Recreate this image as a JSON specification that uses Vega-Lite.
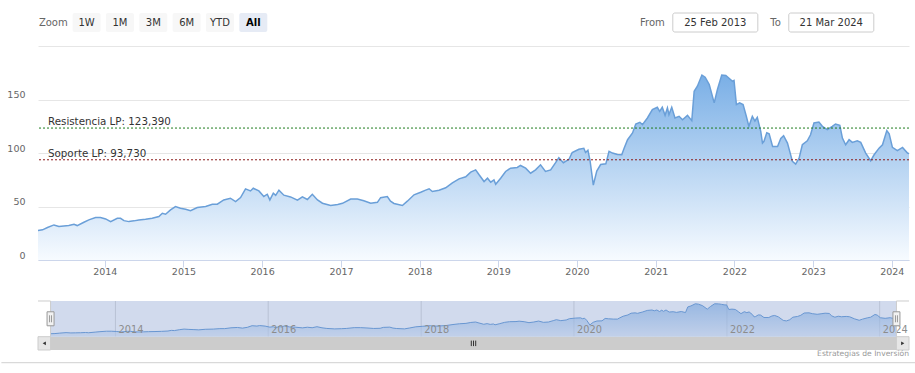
{
"$schema": "https://vega.github.io/schema/vega-lite/v6.json",
"background": "white",
"padding": {"left": 0, "right": 0, "top": 12, "bottom": 10},
"spacing": 11,
"config": {"font": "DejaVu Sans", "view": {"stroke": null}},
"datasets": {
"prices": [
{"d":"2013-02-25","v":27.5},{"d":"2013-03-18","v":28.2},{"d":"2013-04-10","v":30.4},{"d":"2013-05-10","v":32.8},{"d":"2013-06-02","v":31.3},{"d":"2013-06-25","v":31.8},{"d":"2013-07-18","v":32.2},{"d":"2013-08-11","v":33.4},{"d":"2013-08-26","v":32.2},{"d":"2013-09-26","v":35.3},{"d":"2013-10-19","v":37.5},{"d":"2013-11-19","v":39.7},{"d":"2013-12-12","v":39.7},
{"d":"2014-01-05","v":38.4},{"d":"2014-01-28","v":35.9},{"d":"2014-02-28","v":39.0},{"d":"2014-03-15","v":39.0},{"d":"2014-03-31","v":36.8},{"d":"2014-04-23","v":35.9},{"d":"2014-05-16","v":36.6},{"d":"2014-06-08","v":37.5},{"d":"2014-07-09","v":38.1},{"d":"2014-08-09","v":39.0},{"d":"2014-09-09","v":40.6},{"d":"2014-09-25","v":43.7},{"d":"2014-10-10","v":42.8},{"d":"2014-11-02","v":46.9},{"d":"2014-11-25","v":50.0},{"d":"2014-12-18","v":48.4},
{"d":"2015-01-11","v":47.5},{"d":"2015-02-03","v":46.2},{"d":"2015-03-06","v":49.0},{"d":"2015-04-14","v":50.0},{"d":"2015-05-15","v":52.2},{"d":"2015-06-07","v":52.2},{"d":"2015-07-07","v":56.2},{"d":"2015-08-07","v":57.8},{"d":"2015-08-31","v":54.7},{"d":"2015-09-23","v":58.4},{"d":"2015-10-16","v":66.5},{"d":"2015-11-08","v":64.6},{"d":"2015-11-21","v":67.1},{"d":"2015-12-17","v":64.6},
{"d":"2016-01-09","v":59.4},{"d":"2016-01-25","v":61.5},{"d":"2016-02-06","v":56.2},{"d":"2016-02-22","v":62.5},{"d":"2016-03-04","v":60.5},{"d":"2016-03-19","v":65.3},{"d":"2016-04-11","v":60.6},{"d":"2016-05-12","v":59.0},{"d":"2016-06-13","v":55.9},{"d":"2016-07-06","v":59.0},{"d":"2016-07-29","v":56.6},{"d":"2016-08-21","v":61.5},{"d":"2016-09-14","v":56.2},{"d":"2016-10-07","v":53.1},{"d":"2016-11-14","v":50.9},{"d":"2016-12-17","v":52.0},
{"d":"2017-01-08","v":53.0},{"d":"2017-02-15","v":57.0},{"d":"2017-03-18","v":57.0},{"d":"2017-04-17","v":55.4},{"d":"2017-05-19","v":53.0},{"d":"2017-06-19","v":53.9},{"d":"2017-07-04","v":58.3},{"d":"2017-08-04","v":59.4},{"d":"2017-08-19","v":55.0},{"d":"2017-09-04","v":52.9},{"d":"2017-10-13","v":51.0},{"d":"2017-11-05","v":55.0},{"d":"2017-12-06","v":61.0},
{"d":"2018-01-06","v":63.4},{"d":"2018-01-29","v":65.3},{"d":"2018-02-14","v":66.6},{"d":"2018-03-01","v":64.0},{"d":"2018-04-01","v":65.3},{"d":"2018-05-02","v":67.5},{"d":"2018-06-02","v":72.2},{"d":"2018-07-03","v":75.9},{"d":"2018-08-03","v":77.8},{"d":"2018-08-26","v":82.2},{"d":"2018-09-18","v":84.3},{"d":"2018-10-04","v":79.7},{"d":"2018-10-27","v":73.4},{"d":"2018-11-12","v":76.5},{"d":"2018-11-27","v":72.8},{"d":"2018-12-12","v":74.9},{"d":"2018-12-20","v":70.8},
{"d":"2019-01-12","v":76.5},{"d":"2019-02-04","v":82.8},{"d":"2019-02-27","v":85.9},{"d":"2019-03-30","v":86.6},{"d":"2019-04-14","v":88.4},{"d":"2019-05-08","v":85.9},{"d":"2019-05-31","v":81.2},{"d":"2019-06-23","v":84.3},{"d":"2019-07-16","v":89.0},{"d":"2019-08-08","v":82.8},{"d":"2019-09-01","v":84.3},{"d":"2019-09-24","v":91.0},{"d":"2019-10-09","v":95.7},{"d":"2019-10-30","v":91.0},{"d":"2019-11-25","v":94.2},{"d":"2019-12-10","v":100.5},
{"d":"2020-01-10","v":103.6},{"d":"2020-02-02","v":104.5},{"d":"2020-02-10","v":100.5},{"d":"2020-02-21","v":102.7},{"d":"2020-03-02","v":92.6},{"d":"2020-03-17","v":70.0},{"d":"2020-04-02","v":83.1},{"d":"2020-04-20","v":89.3},{"d":"2020-05-14","v":89.9},{"d":"2020-05-29","v":101.7},{"d":"2020-06-14","v":100.0},{"d":"2020-07-07","v":98.6},{"d":"2020-07-27","v":98.5},{"d":"2020-08-07","v":104.6},{"d":"2020-08-23","v":112.5},{"d":"2020-09-15","v":118.8},{"d":"2020-09-30","v":127.2},{"d":"2020-10-19","v":128.8},{"d":"2020-10-31","v":126.6},{"d":"2020-11-23","v":132.8},{"d":"2020-12-16","v":140.6},
{"d":"2021-01-08","v":142.8},{"d":"2021-01-19","v":139.0},{"d":"2021-01-31","v":142.8},{"d":"2021-02-13","v":135.3},{"d":"2021-02-24","v":142.2},{"d":"2021-03-03","v":136.0},{"d":"2021-03-16","v":142.8},{"d":"2021-03-31","v":132.8},{"d":"2021-04-19","v":134.4},{"d":"2021-05-05","v":131.2},{"d":"2021-05-28","v":135.3},{"d":"2021-06-17","v":130.3},{"d":"2021-06-28","v":157.8},{"d":"2021-07-13","v":162.5},{"d":"2021-08-03","v":173.0},{"d":"2021-08-18","v":171.0},{"d":"2021-09-06","v":164.0},{"d":"2021-09-29","v":146.9},{"d":"2021-10-14","v":159.4},{"d":"2021-11-03","v":173.0},{"d":"2021-11-22","v":172.5},{"d":"2021-12-07","v":170.0},{"d":"2021-12-23","v":167.2},{"d":"2021-12-30","v":168.0},
{"d":"2022-01-10","v":145.3},{"d":"2022-01-25","v":147.0},{"d":"2022-02-10","v":145.3},{"d":"2022-02-25","v":134.4},{"d":"2022-03-09","v":125.0},{"d":"2022-03-25","v":134.4},{"d":"2022-04-06","v":130.0},{"d":"2022-04-17","v":133.4},{"d":"2022-05-03","v":120.3},{"d":"2022-05-11","v":109.4},{"d":"2022-05-18","v":111.0},{"d":"2022-05-31","v":119.0},{"d":"2022-06-11","v":118.0},{"d":"2022-06-27","v":106.2},{"d":"2022-07-20","v":106.2},{"d":"2022-08-04","v":113.7},{"d":"2022-08-17","v":116.2},{"d":"2022-09-04","v":109.3},{"d":"2022-09-27","v":92.2},{"d":"2022-10-12","v":89.7},{"d":"2022-10-28","v":95.3},{"d":"2022-11-12","v":107.8},{"d":"2022-12-05","v":111.5},{"d":"2022-12-20","v":117.1},
{"d":"2023-01-05","v":128.1},{"d":"2023-01-28","v":129.0},{"d":"2023-02-13","v":125.0},{"d":"2023-03-08","v":121.9},{"d":"2023-03-31","v":125.0},{"d":"2023-04-15","v":127.2},{"d":"2023-05-05","v":126.0},{"d":"2023-05-17","v":114.0},{"d":"2023-06-01","v":107.8},{"d":"2023-06-17","v":112.5},{"d":"2023-07-02","v":110.0},{"d":"2023-07-25","v":111.5},{"d":"2023-08-10","v":110.0},{"d":"2023-09-02","v":100.0},{"d":"2023-09-25","v":92.8},{"d":"2023-10-11","v":98.4},{"d":"2023-11-03","v":104.6},{"d":"2023-11-19","v":107.8},{"d":"2023-12-09","v":121.0},{"d":"2023-12-20","v":118.0},
{"d":"2024-01-04","v":105.3},{"d":"2024-01-27","v":102.2},{"d":"2024-02-20","v":105.3},{"d":"2024-03-14","v":100.0},{"d":"2024-03-21","v":99.5}
],
"levels": [
{"name":"Resistencia LP","val":123.39,"label":"Resistencia LP: 123,390"},
{"name":"Soporte LP","val":93.73,"label":"Soporte LP: 93,730"}
],
"navTicks": [
{"d":"2014-01-01","label":"2014"},{"d":"2016-01-01","label":"2016"},{"d":"2018-01-01","label":"2018"},{"d":"2020-01-01","label":"2020"},{"d":"2022-01-01","label":"2022"},{"d":"2024-01-01","label":"2024"}
]
},
"vconcat": [
{
"width": 871, "height": 19,
"resolve": {"scale": {"x": "independent"}},
"layer": [
{"data": {"values": [{"item":"Zoom","kind":"label"},{"item":"1W","kind":"btn"},{"item":"1M","kind":"btn"},{"item":"3M","kind":"btn"},{"item":"6M","kind":"btn"},{"item":"YTD","kind":"btn"},{"item":"All","kind":"sel"}]},
 "transform": [{"filter": "datum.kind != 'label'"}],
 "mark": {"type": "rect", "cornerRadius": 2},
 "encoding": {
  "x": {"field": "item", "type": "nominal", "axis": null, "scale": {"type": "band", "domain": ["Zoom","1W","1M","3M","6M","YTD","All"], "range": [1.3, 229.3], "paddingInner": 0.16, "paddingOuter": 0}},
  "fill": {"condition": {"test": "datum.kind == 'sel'", "value": "#e6ebf5"}, "value": "#f7f7f7"}
 }},
{"data": {"values": [{"item":"Zoom","kind":"label"},{"item":"1W","kind":"btn"},{"item":"1M","kind":"btn"},{"item":"3M","kind":"btn"},{"item":"6M","kind":"btn"},{"item":"YTD","kind":"btn"},{"item":"All","kind":"sel"}]},
 "transform": [{"filter": "datum.kind != 'sel'"}],
 "mark": {"type": "text", "fontSize": 10, "baseline": "middle"},
 "encoding": {
  "x": {"field": "item", "type": "nominal", "axis": null, "scale": {"type": "band", "domain": ["Zoom","1W","1M","3M","6M","YTD","All"], "range": [1.3, 229.3], "paddingInner": 0.16, "paddingOuter": 0}},
  "text": {"field": "item"},
  "fill": {"condition": {"test": "datum.kind == 'label'", "value": "#666666"}, "value": "#333333"}
 }},
{"data": {"values": [{"item":"Zoom","kind":"label"},{"item":"1W","kind":"btn"},{"item":"1M","kind":"btn"},{"item":"3M","kind":"btn"},{"item":"6M","kind":"btn"},{"item":"YTD","kind":"btn"},{"item":"All","kind":"sel"}]},
 "transform": [{"filter": "datum.kind == 'sel'"}],
 "mark": {"type": "text", "fontSize": 10, "baseline": "middle", "fontWeight": "bold", "fill": "#000000"},
 "encoding": {
  "x": {"field": "item", "type": "nominal", "axis": null, "scale": {"type": "band", "domain": ["Zoom","1W","1M","3M","6M","YTD","All"], "range": [1.3, 229.3], "paddingInner": 0.16, "paddingOuter": 0}},
  "text": {"field": "item"}
 }},
{"data": {"values": [{"box":"25 Feb 2013","lab":"From"},{"box":"21 Mar 2024","lab":"To"}]},
 "mark": {"type": "rect", "fill": "#ffffff", "stroke": "#cccccc", "strokeWidth": 1, "cornerRadius": 2},
 "encoding": {
  "x": {"field": "box", "type": "nominal", "axis": null, "scale": {"type": "band", "domain": ["25 Feb 2013","21 Mar 2024"], "range": [634.8, 835.8], "paddingInner": 0.267, "paddingOuter": 0}}
 }},
{"data": {"values": [{"box":"25 Feb 2013","lab":"From"},{"box":"21 Mar 2024","lab":"To"}]},
 "mark": {"type": "text", "fontSize": 10, "baseline": "middle", "fill": "#333333"},
 "encoding": {
  "x": {"field": "box", "type": "nominal", "axis": null, "scale": {"type": "band", "domain": ["25 Feb 2013","21 Mar 2024"], "range": [634.8, 835.8], "paddingInner": 0.267, "paddingOuter": 0}},
  "text": {"field": "box"}
 }},
{"data": {"values": [{"box":"25 Feb 2013","lab":"From"},{"box":"21 Mar 2024","lab":"To"}]},
 "mark": {"type": "text", "fontSize": 10, "baseline": "middle", "align": "right", "dx": -50.5, "fill": "#666666"},
 "encoding": {
  "x": {"field": "box", "type": "nominal", "axis": null, "scale": {"type": "band", "domain": ["25 Feb 2013","21 Mar 2024"], "range": [634.8, 835.8], "paddingInner": 0.267, "paddingOuter": 0}},
  "text": {"field": "lab"}
 }}
]
},
{
"width": 871, "height": 216,
"layer": [
{"data": {"name": "prices"},
 "mark": {"type": "area", "fill": {"gradient": "linear", "x1": 0, "y1": 0, "x2": 0, "y2": 1, "stops": [{"offset": 0, "color": "#7aafe6"}, {"offset": 1, "color": "#f7fbff"}]}},
 "encoding": {
  "x": {"field": "d", "type": "temporal", "title": null,
   "scale": {"domain": [{"year":2013,"month":2,"date":25},{"year":2024,"month":3,"date":21}], "nice": false},
   "axis": {"format": "%Y", "tickCount": {"interval": "year", "step": 1}, "grid": false, "domainColor": "#ccd6eb", "tickColor": "#ccd6eb", "tickSize": 7, "labelColor": "#666666", "labelFontSize": 9.5, "labelPadding": -1, "labelFlush": false}},
  "y": {"field": "v", "type": "quantitative", "title": null,
   "scale": {"domain": [0, 202], "nice": false},
   "axis": {"values": [0, 50, 100, 150, 200], "grid": true, "gridColor": "#e6e6e6", "domain": false, "ticks": false, "tickSize": 0, "labelColor": "#666666", "labelFontSize": 9.5, "labelPadding": 13, "labelBaseline": "alphabetic", "labelOffset": -2, "labelExpr": "datum.value == 200 ? '' : datum.label"}}
 }},
{"data": {"name": "prices"},
 "mark": {"type": "line", "stroke": "#6a9fd8", "strokeWidth": 1.5},
 "encoding": {
  "x": {"field": "d", "type": "temporal", "title": null},
  "y": {"field": "v", "type": "quantitative", "title": null}
 }},
{"data": {"name": "levels"},
 "mark": {"type": "rule", "strokeDash": [2, 2], "strokeWidth": 1},
 "encoding": {
  "y": {"field": "val", "type": "quantitative", "title": null},
  "stroke": {"field": "name", "type": "nominal", "scale": {"domain": ["Resistencia LP", "Soporte LP"], "range": ["#1e7d1e", "#8b1a1a"]}, "legend": null}
 }},
{"data": {"name": "levels"},
 "mark": {"type": "text", "align": "left", "baseline": "alphabetic", "dx": 10, "dy": -3, "fontSize": 10.3, "fill": "#333333"},
 "encoding": {
  "x": {"datum": {"year":2013,"month":2,"date":25}, "type": "temporal"},
  "y": {"field": "val", "type": "quantitative", "title": null},
  "text": {"field": "label"}
 }}
]
},
{
"width": 871, "height": 76,
"layer": [
{"data": {"values": [{}]}, "mark": {"type": "rect", "fill": "#f2f2f2"},
 "encoding": {
  "x": {"datum": {"year":2012,"month":12,"date":27}, "type": "temporal", "axis": null, "scale": {"domain": [{"year":2012,"month":12,"date":27},{"year":2024,"month":5,"date":20}], "nice": false}},
  "x2": {"datum": {"year":2024,"month":5,"date":20}},
  "y": {"datum": 13, "type": "quantitative", "axis": null, "scale": {"domain": [-114.8, 254.5], "nice": false, "zero": false}},
  "y2": {"datum": -51.6}
 }},
{"data": {"values": [{}]}, "mark": {"type": "rect", "fill": "#cccccc"},
 "encoding": {
  "x": {"datum": {"year":2013,"month":2,"date":25}, "type": "temporal"},
  "x2": {"datum": {"year":2024,"month":3,"date":21}},
  "y": {"datum": 13, "type": "quantitative"},
  "y2": {"datum": -51.6}
 }},
{"data": {"values": [{}]}, "mark": {"type": "rect", "fill": "#e6e6e6", "stroke": "#cccccc", "strokeWidth": 1},
 "encoding": {
  "x": {"datum": {"year":2012,"month":12,"date":27}, "type": "temporal"},
  "x2": {"datum": {"year":2013,"month":2,"date":25}},
  "y": {"datum": 13, "type": "quantitative"},
  "y2": {"datum": -51.6}
 }},
{"data": {"values": [{}]}, "mark": {"type": "rect", "fill": "#e6e6e6", "stroke": "#cccccc", "strokeWidth": 1},
 "encoding": {
  "x": {"datum": {"year":2024,"month":3,"date":21}, "type": "temporal"},
  "x2": {"datum": {"year":2024,"month":5,"date":20}},
  "y": {"datum": 13, "type": "quantitative"},
  "y2": {"datum": -51.6}
 }},
{"data": {"values": [{}]}, "mark": {"type": "point", "shape": "triangle-left", "filled": true, "fill": "#333333", "size": 14, "opacity": 1},
 "encoding": {
  "x": {"datum": {"year":2013,"month":1,"date":26}, "type": "temporal"},
  "y": {"datum": -19.3, "type": "quantitative"}
 }},
{"data": {"values": [{}]}, "mark": {"type": "point", "shape": "triangle-right", "filled": true, "fill": "#333333", "size": 14, "opacity": 1},
 "encoding": {
  "x": {"datum": {"year":2024,"month":4,"date":20}, "type": "temporal"},
  "y": {"datum": -19.3, "type": "quantitative"}
 }},
{"data": {"values": [{}]}, "mark": {"type": "point", "shape": "M-0.8,-1V1M0,-1V1M0.8,-1V1", "filled": false, "stroke": "#333333", "strokeWidth": 1, "size": 30, "opacity": 1},
 "encoding": {
  "x": {"datum": {"year":2018,"month":9,"date":8}, "type": "temporal"},
  "y": {"datum": -19.3, "type": "quantitative"}
 }},
{"data": {"name": "navTicks"}, "mark": {"type": "rule", "stroke": "#dcdcdc", "strokeWidth": 1},
 "encoding": {
  "x": {"field": "d", "type": "temporal"},
  "y": {"datum": 13, "type": "quantitative"},
  "y2": {"datum": 186.5}
 }},
{"data": {"name": "prices"},
 "mark": {"type": "area", "fillOpacity": 0.6, "fill": {"gradient": "linear", "x1": 0, "y1": 0, "x2": 0, "y2": 1, "stops": [{"offset": 0, "color": "#7aafe6"}, {"offset": 1, "color": "#dbe8f7"}]}},
 "encoding": {
  "x": {"field": "d", "type": "temporal"},
  "y": {"field": "v", "type": "quantitative"},
  "y2": {"datum": 13}
 }},
{"data": {"name": "prices"},
 "mark": {"type": "line", "stroke": "#6a9fd8", "strokeWidth": 1},
 "encoding": {
  "x": {"field": "d", "type": "temporal"},
  "y": {"field": "v", "type": "quantitative"}
 }},
{"data": {"values": [{}]}, "mark": {"type": "rect", "fill": "#6685c2", "fillOpacity": 0.3},
 "encoding": {
  "x": {"datum": {"year":2013,"month":2,"date":25}, "type": "temporal"},
  "x2": {"datum": {"year":2024,"month":3,"date":21}},
  "y": {"datum": 13, "type": "quantitative"},
  "y2": {"datum": 186.5}
 }},
{"data": {"name": "navTicks"}, "mark": {"type": "text", "align": "left", "baseline": "alphabetic", "dx": 3, "fontSize": 9.8, "fill": "#8c8c8c"},
 "encoding": {
  "x": {"field": "d", "type": "temporal"},
  "y": {"datum": 29.5, "type": "quantitative"},
  "text": {"field": "label"}
 }},
{"data": {"values": [{}]}, "mark": {"type": "rule", "stroke": "#cccccc", "strokeWidth": 1},
 "encoding": {
  "x": {"datum": {"year":2012,"month":12,"date":27}, "type": "temporal"},
  "x2": {"datum": {"year":2013,"month":2,"date":25}},
  "y": {"datum": 186.5, "type": "quantitative"}
 }},
{"data": {"values": [{}]}, "mark": {"type": "rule", "stroke": "#cccccc", "strokeWidth": 1},
 "encoding": {
  "x": {"datum": {"year":2024,"month":3,"date":21}, "type": "temporal"},
  "x2": {"datum": {"year":2024,"month":5,"date":20}},
  "y": {"datum": 186.5, "type": "quantitative"}
 }},
{"data": {"values": [{}]}, "mark": {"type": "rule", "stroke": "#cccccc", "strokeWidth": 1},
 "encoding": {
  "x": {"datum": {"year":2013,"month":2,"date":25}, "type": "temporal"},
  "y": {"datum": 13, "type": "quantitative"},
  "y2": {"datum": 186.5}
 }},
{"data": {"values": [{}]}, "mark": {"type": "rule", "stroke": "#cccccc", "strokeWidth": 1},
 "encoding": {
  "x": {"datum": {"year":2024,"month":3,"date":21}, "type": "temporal"},
  "y": {"datum": 13, "type": "quantitative"},
  "y2": {"datum": 186.5}
 }},
{"data": {"values": [{}]}, "mark": {"type": "point", "shape": "M-0.5,-1H0.5V1H-0.5Z M-0.14,-0.5V0.5 M0.14,-0.5V0.5", "filled": true, "fill": "#f2f2f2", "stroke": "#999999", "strokeWidth": 1, "size": 196, "opacity": 1},
 "encoding": {
  "x": {"datum": {"year":2013,"month":2,"date":25}, "type": "temporal"},
  "y": {"datum": 100, "type": "quantitative"}
 }},
{"data": {"values": [{}]}, "mark": {"type": "point", "shape": "M-0.5,-1H0.5V1H-0.5Z M-0.14,-0.5V0.5 M0.14,-0.5V0.5", "filled": true, "fill": "#f2f2f2", "stroke": "#999999", "strokeWidth": 1, "size": 196, "opacity": 1},
 "encoding": {
  "x": {"datum": {"year":2024,"month":3,"date":21}, "type": "temporal"},
  "y": {"datum": 100, "type": "quantitative"}
 }},
{"data": {"values": [{"t": "Estrategias de Inversión"}]}, "mark": {"type": "text", "align": "right", "baseline": "alphabetic", "fontSize": 7.6, "fill": "#999999"},
 "encoding": {
  "x": {"datum": {"year":2024,"month":5,"date":20}, "type": "temporal"},
  "y": {"datum": -83.2, "type": "quantitative"},
  "text": {"field": "t"}
 }},
{"data": {"values": [{}]}, "mark": {"type": "rule", "stroke": "#d0d0d0", "strokeWidth": 1},
 "encoding": {
  "x": {"datum": {"year":2012,"month":7,"date":5}, "type": "temporal"},
  "x2": {"datum": {"year":2024,"month":6,"date":24}},
  "y": {"datum": -113.4, "type": "quantitative"}
 }}
]
}
]
}
